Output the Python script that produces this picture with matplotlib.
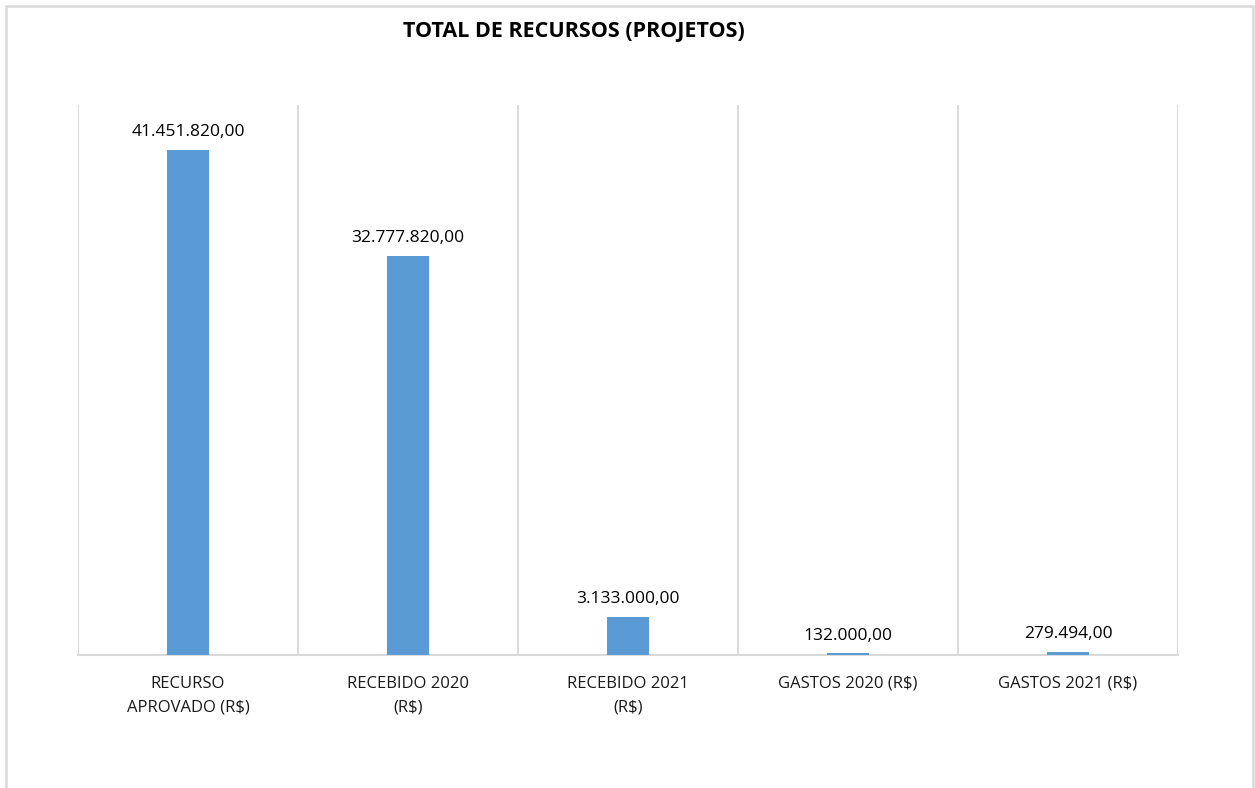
import numpy as np
import matplotlib.pyplot as plt
from matplotlib.patches import Rectangle

# Dados do gráfico
categorias = ["RECURSO\nAPROVADO (R$)", "RECEBIDO 2020\n(R$)", "RECEBIDO 2021\n(R$)",
              "GASTOS 2020 (R$)", "GASTOS 2021 (R$)"]
valores = [41451820.00, 32777820.00, 3133000.00, 132000.00, 279494.00]
rotulos = ["41.451.820,00", "32.777.820,00", "3.133.000,00", "132.000,00", "279.494,00"]

plt.rcParams['font.family'] = ['Open Sans', 'DejaVu Sans']

fig = plt.figure(figsize=(12.55, 7.88), dpi=100)
ax = fig.add_axes([0.0622, 0.1688, 0.8764, 0.698])

x = np.arange(len(valores))
ax.bar(x, valores, width=0.187, color="#5B9BD5", zorder=3)

# Rótulos de valores
for xi, v, r in zip(x, valores, rotulos):
    ax.annotate(r, (xi, v), xytext=(0, 7), textcoords="offset points",
                ha="center", va="bottom", fontsize=12.5, color="#000000")

ax.set_xlim(-0.5, len(valores) - 0.5)
ax.set_ylim(0, 45150000)

# Linhas verticais entre categorias
for b in np.arange(-0.5, len(valores) + 0.5, 1.0):
    ax.axvline(b, color="#d9d9d9", linewidth=1.3, zorder=1)

for s in ["top", "right", "left"]:
    ax.spines[s].set_visible(False)
ax.spines["bottom"].set_color("#d9d9d9")
ax.spines["bottom"].set_linewidth(1.5)

ax.set_yticks([])
ax.set_xticks(x)
ax.set_xticklabels(categorias, fontsize=12, color="#1a1a1a", linespacing=1.65)
ax.tick_params(axis="x", length=0, pad=15)

fig.text(0.457, 0.96, "TOTAL DE RECURSOS (PROJETOS)", ha="center", va="center",
         fontsize=15.5, fontweight="bold", color="#000000")

# Borda do gráfico
fig.add_artist(Rectangle((6 / 1255, -0.05), 1247 / 1255, 1.05 - 6 / 788,
                         transform=fig.transFigure, fill=False,
                         edgecolor="#d9d9d9", linewidth=1.8))

fig.savefig("out.png", dpi=100)
